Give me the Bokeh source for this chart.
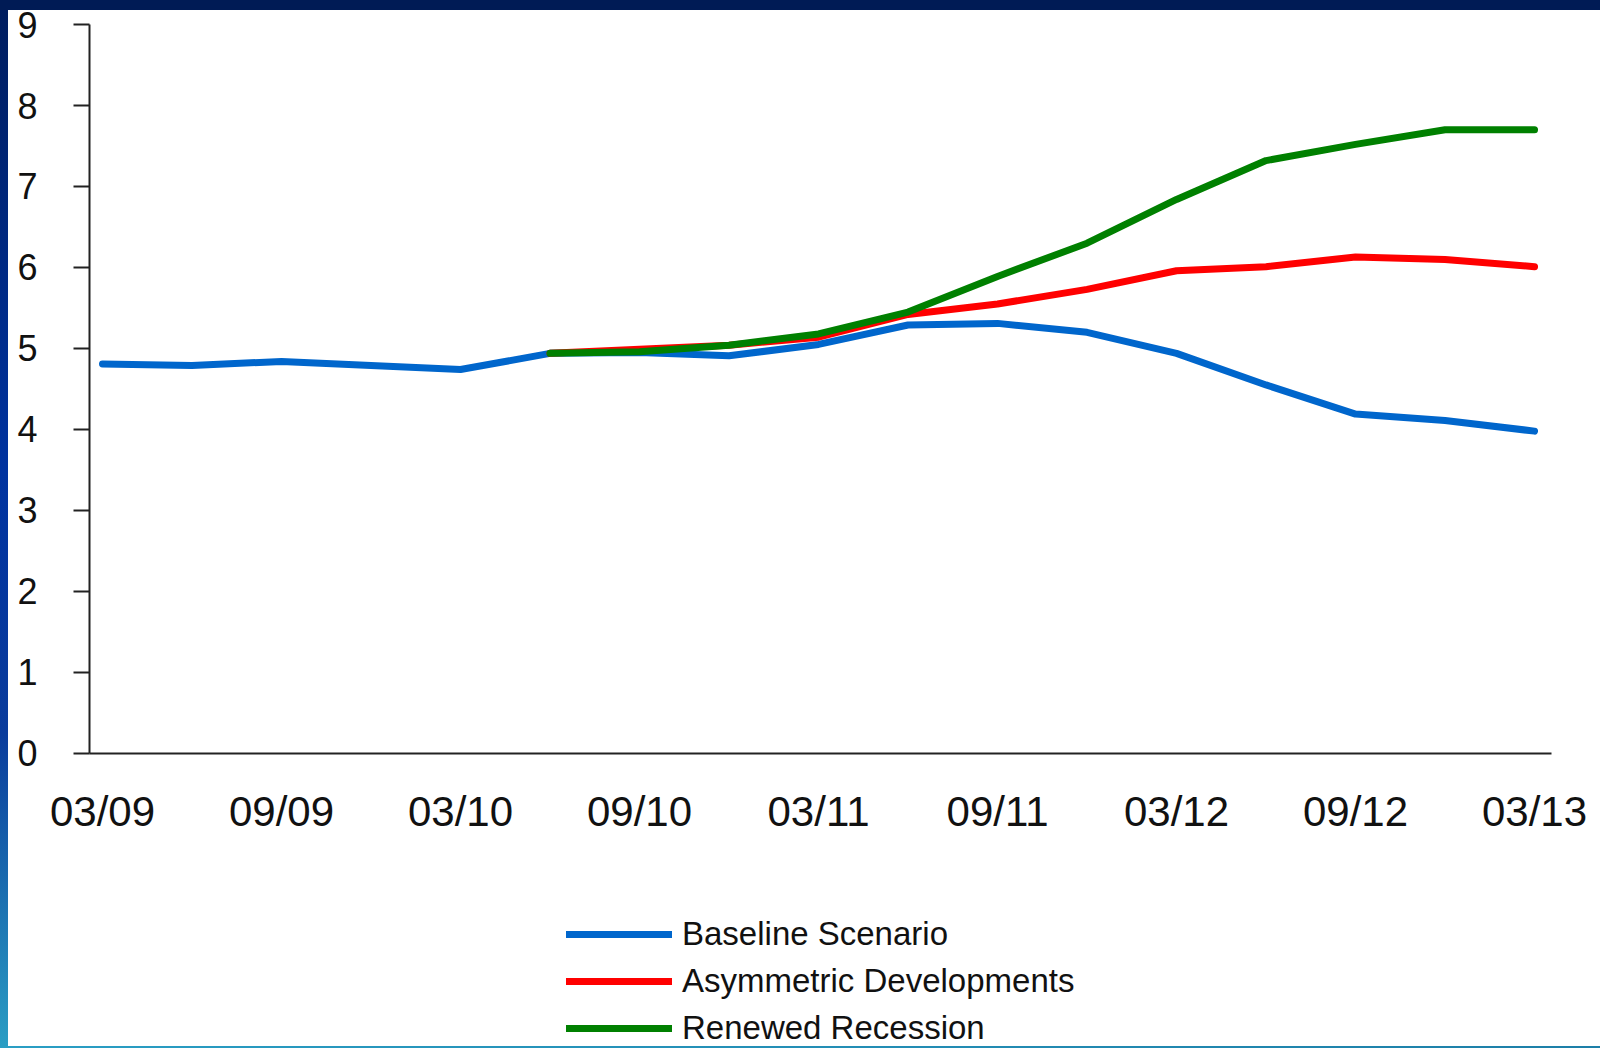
from bokeh.plotting import figure
from bokeh.models import Range1d, FixedTicker, Legend, LegendItem, ColumnDataSource, LinearAxis
from bokeh.embed import file_html
from bokeh.resources import INLINE

# ---- data ----
quarters = ["03/09", "06/09", "09/09", "12/09", "03/10", "06/10", "09/10", "12/10",
            "03/11", "06/11", "09/11", "12/11", "03/12", "06/12", "09/12", "12/12", "03/13"]
baseline = [4.81, 4.79, 4.84, 4.79, 4.74, 4.94, 4.95, 4.91, 5.05, 5.29, 5.31, 5.20,
            4.94, 4.55, 4.19, 4.11, 3.98]
asymmetric = [4.94, 4.99, 5.04, 5.14, 5.42, 5.55, 5.73, 5.96, 6.01, 6.13, 6.10, 6.01]
renewed = [4.94, 4.96, 5.04, 5.18, 5.45, 5.89, 6.30, 6.84, 7.32, 7.52, 7.70, 7.70]
scenario_start = 5  # index of 06/10, where the alternative scenarios begin
tick_labels = quarters[::2]
y_ticks = [0, 1, 2, 3, 4, 5, 6, 7, 8, 9]

names = ["Baseline Scenario", "Asymmetric Developments", "Renewed Recession"]
colors = ["#0066CC", "#FF0000", "#008000"]

FONT = "Liberation Sans"

# visible axis extents (data units)
X_LO, X_HI = -0.145, 16.19
Y_LO, Y_HI = 0, 9

# the plotting frame covers the whole page; the axes are pinned inside it
p = figure(width=1600, height=1048, output_backend="svg", toolbar_location=None,
           x_range=Range1d(-1.1397, 16.737), y_range=Range1d(-3.642, 9.2963),
           x_axis_location=None, y_axis_location=None,
           min_border_left=0, min_border_right=0, min_border_top=0, min_border_bottom=0,
           border_fill_color=None, background_fill_color=None, outline_line_color=None,
           styles={
               "background": (
                   "linear-gradient(#001b55, #001b55) left top / 100% 10px no-repeat, "
                   "linear-gradient(to bottom, #001d5e 0%, #0033a0 45%, #0a3c9c 70%, #2a9ec4 100%) left top / 8px 100% no-repeat, "
                   "linear-gradient(to right, #2a9ec4, #1d7fa8) left bottom / 100% 2px no-repeat, "
                   "white"
               )
           })

p.xgrid.grid_line_color = None
p.ygrid.grid_line_color = None

src_base = ColumnDataSource(dict(x=list(range(len(quarters))), y=baseline))
xs_alt = list(range(scenario_start, scenario_start + len(asymmetric)))
src_asym = ColumnDataSource(dict(x=xs_alt, y=asymmetric))
src_ren = ColumnDataSource(dict(x=xs_alt, y=renewed))

r_base = p.line("x", "y", source=src_base, line_color=colors[0], line_width=7,
                line_cap="round", line_join="round")
r_asym = p.line("x", "y", source=src_asym, line_color=colors[1], line_width=7,
                line_cap="round", line_join="round")
r_ren = p.line("x", "y", source=src_ren, line_color=colors[2], line_width=7,
               line_cap="round", line_join="round")

# x axis drawn at y = 0
xa = LinearAxis(fixed_location=Y_LO, bounds=(X_LO, X_HI))
xa.ticker = FixedTicker(ticks=list(range(0, len(quarters), 2)))
xa.major_label_overrides = {i * 2: lab for i, lab in enumerate(tick_labels)}
xa.major_tick_line_color = None
xa.minor_tick_line_color = None
xa.axis_line_color = "#222222"
xa.axis_line_width = 2
xa.major_label_text_font = FONT
xa.major_label_text_font_size = "42px"
xa.major_label_text_color = "#111111"
xa.major_label_standoff = 29
p.add_layout(xa, "below")

# y axis drawn at the left edge of the plotted span
ya = LinearAxis(fixed_location=X_LO, bounds=(Y_LO, Y_HI))
ya.ticker = FixedTicker(ticks=y_ticks)
ya.major_tick_out = 16
ya.major_tick_in = 0
ya.major_tick_line_color = "#222222"
ya.major_tick_line_width = 2
ya.minor_tick_line_color = None
ya.axis_line_color = "#222222"
ya.axis_line_width = 2
ya.major_label_text_font = FONT
ya.major_label_text_font_size = "36px"
ya.major_label_text_color = "#111111"
ya.major_label_standoff = 36
p.add_layout(ya, "left")

legend = Legend(items=[LegendItem(label=names[0], renderers=[r_base]),
                       LegendItem(label=names[1], renderers=[r_asym]),
                       LegendItem(label=names[2], renderers=[r_ren])],
                location=(566, 0), orientation="vertical",
                glyph_width=106, glyph_height=40, label_height=40, spacing=7,
                label_standoff=10, padding=0, margin=0,
                label_text_font=FONT, label_text_font_size="33px",
                label_text_color="#111111",
                border_line_color=None, background_fill_alpha=0)
p.add_layout(legend)

open("out.html", "w").write(file_html(p, INLINE))
